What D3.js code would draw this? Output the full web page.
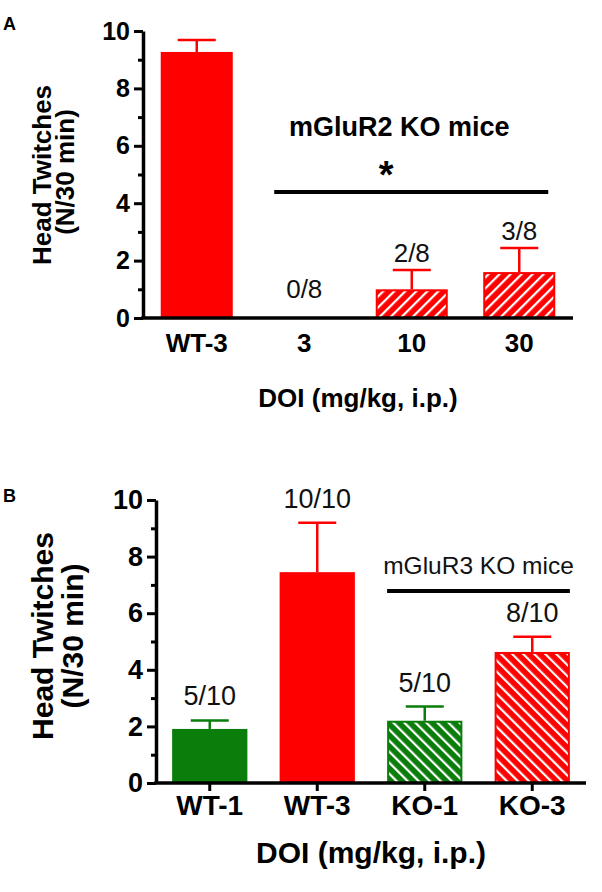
<!DOCTYPE html>
<html>
<head>
<meta charset="utf-8">
<script src="https://cdn.jsdelivr.net/npm/d3@7"></script>
<style>
  html, body { margin: 0; padding: 0; background: #fff; }
  svg { display: block; font-family: "Liberation Sans", Arial, Helvetica, sans-serif; }
</style>
</head>
<body>
<script>
// ---------------- DATA ----------------
// Panel A
const catsA = ["WT-3", "3", "10", "30"];
const meansA = [9.27, 0, 1.0, 1.6];
const semA = [0.42, 0, 0.67, 0.84];
const fracA = ["", "0/8", "2/8", "3/8"];
const hatchA = [false, true, true, true];
const colorA = ["red", "red", "red", "red"];
// Panel B
const catsB = ["WT-1", "WT-3", "KO-1", "KO-3"];
const meansB = [1.91, 7.45, 2.2, 4.63];
const semB = [0.3, 1.75, 0.5, 0.54];
const fracB = ["5/10", "10/10", "5/10", "8/10"];
const hatchB = [false, false, true, true];
const colorB = ["green", "red", "green", "red"];
const yTicks = [0, 2, 4, 6, 8, 10];
const yMinor = [1, 3, 5, 7, 9];

const palette = { red: "#ff0000", green: "#0a7d0a" };

// ---------------- SETUP ----------------
const svg = d3.select("body").append("svg").attr("width", 602).attr("height", 892);
const defs = svg.append("defs");

function makePattern(id, color, angle) {
  const p = defs.append("pattern").attr("id", id)
    .attr("patternUnits", "userSpaceOnUse")
    .attr("width", 7.8).attr("height", 7.8)
    .attr("patternTransform", `rotate(${angle})`);
  p.append("rect").attr("width", 7.8).attr("height", 7.8).attr("fill", color);
  p.append("rect").attr("x", 0).attr("y", 0).attr("width", 2.2).attr("height", 7.8).attr("fill", "#fff");
}
makePattern("hatchA-red", palette.red, 45);
makePattern("hatchB-red", palette.red, -45);
makePattern("hatchB-green", palette.green, -45);

const bold = "bold";

function panel(opts) {
  const { cats, means, sems, fracs, hatch, colors, x, y, hatchPrefix, tickFont, xTickLen, fracGap, capW } = opts;
  const g = svg.append("g");

  cats.forEach((c, i) => {
    if (means[i] <= 0) return;
    const col = palette[colors[i]];
    g.append("rect")
      .attr("x", x(c) + 1).attr("width", x.bandwidth() - 2)
      .attr("y", y(means[i]) + 1).attr("height", y(0) - y(means[i]) - 1)
      .attr("fill", hatch[i] ? `url(#${hatchPrefix}-${colors[i]})` : col)
      .attr("stroke", col).attr("stroke-width", 2);
    if (sems[i] > 0) {
      const cx = x(c) + x.bandwidth() / 2;
      g.append("line").attr("x1", cx).attr("x2", cx)
        .attr("y1", y(means[i])).attr("y2", y(means[i] + sems[i]))
        .attr("stroke", col).attr("stroke-width", 2.5);
      g.append("line").attr("x1", cx - capW / 2).attr("x2", cx + capW / 2)
        .attr("y1", y(means[i] + sems[i])).attr("y2", y(means[i] + sems[i]))
        .attr("stroke", col).attr("stroke-width", 2.5);
    }
  });

  cats.forEach((c, i) => {
    if (!fracs[i]) return;
    const top = means[i] + sems[i];
    const cx = x(c) + x.bandwidth() / 2;
    const yy = top > 0 ? y(top) - fracGap : y(0) - 20;
    g.append("text").attr("x", cx).attr("y", yy)
      .attr("text-anchor", "middle").attr("font-size", opts.fracFont)
      .attr("fill", "#111").text(fracs[i]);
  });

  const yAxis = d3.axisLeft(y).tickValues(yTicks).tickSize(9).tickSizeOuter(0).tickPadding(4)
    .tickFormat(d3.format("d"));
  const ya = g.append("g").attr("transform", `translate(${x.range()[0]},0)`).call(yAxis);
  ya.select(".domain").attr("stroke", "#000").attr("stroke-width", 3.5);
  ya.selectAll(".tick line").attr("stroke", "#000").attr("stroke-width", 3);
  ya.selectAll(".tick text").attr("font-size", tickFont).attr("font-weight", bold)
    .attr("fill", "#000").attr("font-family", null);
  const yMin = d3.axisLeft(y).tickValues(yMinor).tickSize(5).tickSizeOuter(0).tickFormat("");
  const ym = g.append("g").attr("transform", `translate(${x.range()[0]},0)`).call(yMin);
  ym.select(".domain").remove();
  ym.selectAll(".tick line").attr("stroke", "#000").attr("stroke-width", 3);

  const xAxis = d3.axisBottom(x).tickSize(xTickLen).tickSizeOuter(0);
  const xa = g.append("g").attr("transform", `translate(0,${y(0)})`).call(xAxis);
  xa.select(".domain").attr("stroke", "#000").attr("stroke-width", 3.5)
    .attr("d", `M${x.range()[0] - 1.75},0H${x.range()[1]}`);
  xa.selectAll(".tick line").attr("stroke", "#000").attr("stroke-width", 3);
  xa.selectAll(".tick text").attr("font-size", opts.xLabFont).attr("font-weight", bold)
    .attr("fill", "#000").attr("font-family", null)
    .attr("y", opts.xLabY).attr("dy", 0);
  return g;
}

// ---------------- PANEL A ----------------
const xA = d3.scaleBand().domain(catsA).range([143, 573]).paddingInner(0.33).paddingOuter(0.165);
const yA = d3.scaleLinear().domain([0, 10]).range([318, 31]);
panel({ cats: catsA, means: meansA, sems: semA, fracs: fracA, hatch: hatchA, colors: colorA,
  x: xA, y: yA, hatchPrefix: "hatchA", tickFont: 25, xTickLen: 0, fracGap: 8, capW: 38,
  fracFont: 26, xLabFont: 26, xLabY: 34 });

const sA1 = xA("3") + 6, sA2 = xA("30") + xA.bandwidth() - 7;
svg.append("line").attr("x1", sA1).attr("x2", sA2).attr("y1", 192).attr("y2", 192)
  .attr("stroke", "#000").attr("stroke-width", 4);
svg.append("text").attr("x", (sA1 + sA2) / 2 - 25).attr("y", 188).attr("text-anchor", "middle")
  .attr("font-size", 38).attr("font-weight", bold).text("*");
svg.append("text").attr("x", (sA1 + sA2) / 2 - 12).attr("y", 136).attr("text-anchor", "middle")
  .attr("font-size", 27).attr("font-weight", bold).text("mGluR2 KO mice");

svg.append("text").attr("transform", "translate(51,175) rotate(-90)").attr("text-anchor", "middle")
  .attr("font-size", 26).attr("font-weight", bold).text("Head Twitches");
svg.append("text").attr("transform", "translate(74,172) rotate(-90)").attr("text-anchor", "middle")
  .attr("font-size", 26).attr("font-weight", bold).text("(N/30 min)");
svg.append("text").attr("x", 358).attr("y", 407).attr("text-anchor", "middle")
  .attr("font-size", 26).attr("font-weight", bold).text("DOI (mg/kg, i.p.)");
svg.append("text").attr("x", 3).attr("y", 30).attr("font-size", 18).attr("font-weight", bold).text("A");

// ---------------- PANEL B ----------------
const xB = d3.scaleBand().domain(catsB).range([156, 586]).paddingInner(0.3).paddingOuter(0.15);
const yB = d3.scaleLinear().domain([0, 10]).range([783, 500]);
panel({ cats: catsB, means: meansB, sems: semB, fracs: fracB, hatch: hatchB, colors: colorB,
  x: xB, y: yB, hatchPrefix: "hatchB", tickFont: 27, xTickLen: 8, fracGap: 15, capW: 38,
  fracFont: 27, xLabFont: 28, xLabY: 32 });

const sB1 = xB("KO-1"), sB2 = xB("KO-3") + xB.bandwidth();
svg.append("line").attr("x1", sB1).attr("x2", sB2).attr("y1", 591).attr("y2", 591)
  .attr("stroke", "#000").attr("stroke-width", 4);
svg.append("text").attr("x", (sB1 + sB2) / 2).attr("y", 574).attr("text-anchor", "middle")
  .attr("font-size", 24.5).attr("fill", "#111").text("mGluR3 KO mice");

svg.append("text").attr("transform", "translate(53,636) rotate(-90)").attr("text-anchor", "middle")
  .attr("font-size", 30).attr("font-weight", bold).text("Head Twitches");
svg.append("text").attr("transform", "translate(83,636) rotate(-90)").attr("text-anchor", "middle")
  .attr("font-size", 30).attr("font-weight", bold).text("(N/30 min)");
svg.append("text").attr("x", 371).attr("y", 863).attr("text-anchor", "middle")
  .attr("font-size", 30).attr("font-weight", bold).text("DOI (mg/kg, i.p.)");
svg.append("text").attr("x", 3).attr("y", 502).attr("font-size", 18).attr("font-weight", bold).text("B");
</script>
</body>
</html>
